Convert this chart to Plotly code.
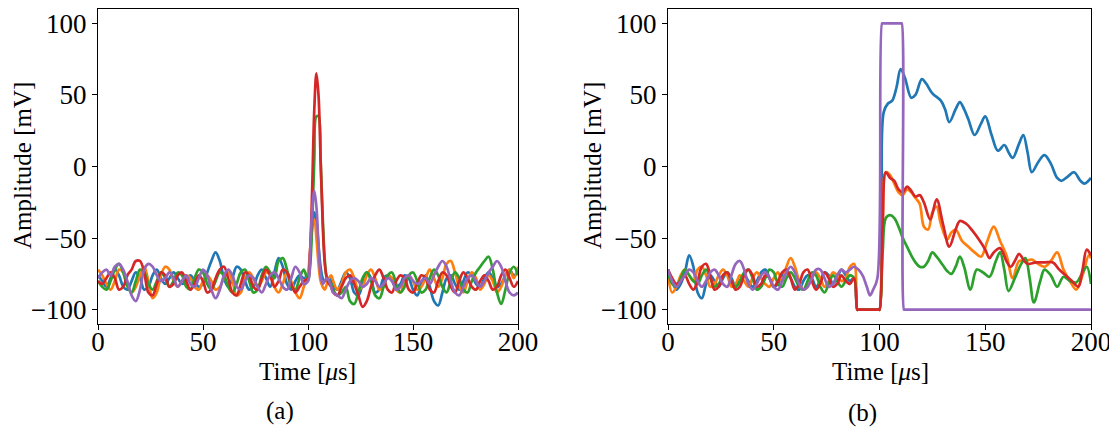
import plotly.graph_objects as go

# page is 1117x433; the page body adds an 8 px offset, so the figure is drawn 8 px in
W, H = 1109, 425
OFF = 8

# ---------------- Panel (a) data ----------------
# time grid (µs): 0..98 step 2, 100..112 step 1, 114..200 step 2
time_a = list(range(0, 100, 2)) + list(range(100, 113)) + list(range(114, 201, 2))

blue_a = [-76, -80, -84, -78, -72, -76, -84, -86, -80, -74,
          -78, -86, -84, -76, -72, -78, -82, -78, -74, -78,
          -82, -80, -76, -80, -84, -82, -74, -66, -60, -66,
          -78, -84, -78, -70, -72, -80, -86, -84, -76, -72,
          -78, -84, -74, -64, -70, -82, -86, -80, -76, -78,
          -76, -62, -42, -32, -38, -55, -70, -78, -80, -79, -78, -80, -84,
          -86, -80, -74, -78, -88, -90, -82, -74, -78, -88,
          -86, -78, -76, -80, -84, -82, -76, -78, -86, -90,
          -82, -76, -84, -94, -97, -88, -78, -76, -82, -86,
          -80, -74, -76, -82, -84, -78, -74, -78, -84, -82,
          -76, -72, -76, -74]

orange_a = [-72, -76, -82, -86, -80, -72, -74, -82, -88, -84,
            -76, -70, -80, -92, -88, -76, -70, -72, -80, -84,
            -80, -76, -78, -84, -86, -80, -76, -80, -86, -84,
            -78, -74, -80, -90, -88, -78, -74, -78, -84, -80,
            -74, -76, -84, -88, -82, -74, -80, -88, -92, -84,
            -74, -58, -40, -37, -50, -68, -80, -84, -86, -82, -78, -76, -80,
            -86, -82, -74, -72, -78, -86, -84, -76, -72, -78,
            -86, -84, -76, -78, -86, -88, -80, -76, -80, -86,
            -84, -78, -72, -78, -84, -78, -68, -66, -74, -84,
            -88, -80, -74, -78, -86, -82, -76, -80, -88, -84,
            -76, -72, -78, -70]

green_a = [-80, -84, -86, -80, -72, -68, -74, -84, -88, -80,
           -72, -74, -82, -86, -80, -74, -78, -84, -80, -74,
           -76, -84, -86, -78, -72, -74, -82, -86, -80, -74,
           -76, -84, -88, -82, -74, -72, -80, -88, -86, -76,
           -70, -74, -78, -66, -64, -72, -84, -86, -78, -72,
           -80, -70, -40, 5, 35, 35, 5, -35, -65, -78, -80, -82, -86,
           -90, -88, -84, -94, -96, -88, -78, -74, -80, -90,
           -92, -84, -76, -74, -82, -88, -84, -76, -74, -80,
           -88, -86, -78, -72, -76, -84, -88, -80, -74, -78,
           -86, -88, -80, -74, -70, -66, -63, -72, -88, -96,
           -86, -74, -70, -76]

red_a = [-80, -82, -78, -74, -78, -86, -84, -76, -72, -66,
         -66, -74, -88, -90, -82, -74, -76, -84, -82, -76,
         -74, -80, -86, -82, -76, -80, -88, -86, -78, -72,
         -70, -78, -88, -90, -82, -74, -76, -84, -86, -78,
         -72, -76, -84, -80, -72, -74, -82, -88, -84, -80,
         -78, -60, -15, 40, 65, 50, 5, -40, -68, -78, -82, -84, -88,
         -90, -84, -78, -76, -82, -90, -98, -94, -84, -76,
         -72, -78, -86, -88, -80, -76, -78, -86, -88, -82,
         -76, -78, -86, -88, -80, -74, -76, -84, -88, -80,
         -74, -78, -84, -86, -80, -76, -80, -86, -84, -76,
         -72, -78, -84, -80]

purple_a = [-78, -74, -72, -76, -70, -68, -72, -80, -90, -94,
            -86, -72, -68, -70, -76, -80, -78, -74, -78, -84,
            -80, -76, -82, -84, -78, -72, -76, -86, -92, -86,
            -76, -72, -76, -84, -86, -80, -76, -78, -84, -88,
            -82, -76, -74, -78, -84, -86, -78, -70, -74, -82,
            -80, -60, -30, -17, -28, -55, -76, -82, -80, -78, -80, -84, -88,
            -90, -92, -86, -80, -78, -80, -84, -82, -78, -80,
            -84, -82, -78, -80, -86, -84, -78, -76, -80, -82,
            -80, -78, -82, -76, -70, -66, -70, -80, -88, -90,
            -84, -78, -76, -80, -84, -80, -74, -70, -66, -70,
            -80, -88, -90, -88]

# ---------------- Panel (b) data ----------------
time_b_pre = list(range(0, 89, 2))  # 0..88 step 2

blue_b_pre = [-72, -80, -86, -82, -74, -62, -70, -88, -92, -82,
              -76, -80, -84, -78, -74, -78, -84, -80, -76, -80,
              -84, -80, -74, -72, -78, -84, -82, -76, -74, -78,
              -84, -86, -80, -76, -78, -84, -80, -74, -76, -82,
              -78, -72, -76, -80, -78]
blue_b_tx = [89.5, 89.9, 99.6, 100, 101, 102, 104, 106, 108, 110, 112,
             115, 117, 120, 122, 125, 129, 131, 133, 136, 138, 140, 142, 145, 148, 150,
             153, 156, 159, 161, 163, 166, 168, 170, 172, 175, 178, 181, 184, 186, 189,
             192, 195, 197, 200]
blue_b_ty = [-100, -100, -100, -100, -20, 38, 44, 46, 55, 68, 62,
             48, 50, 61, 58, 51, 46, 40, 31, 40, 45, 40, 33, 22, 30, 35,
             22, 11, 15, 10, 6, 16, 22, 10, -4, 3, 8, 2, -8, -10, -7,
             -4, -10, -12, -8]

orange_b_pre = [-76, -88, -84, -76, -72, -76, -80, -72, -70, -76,
                -84, -82, -76, -72, -76, -84, -82, -76, -80, -84,
                -78, -74, -78, -82, -84, -78, -74, -80, -70, -64,
                -70, -80, -86, -84, -78, -74, -78, -84, -80, -74,
                -76, -80, -78, -70, -68]
orange_b_tx = [89.5, 89.9, 99.6, 100, 101.5, 103, 105, 107, 109, 111, 113, 115, 117, 119,
               121, 123, 125, 127, 129, 132, 134, 136, 139, 142,
               145, 148, 151, 154, 157, 160, 163, 166, 169, 172,
               175, 178, 181, 184, 187, 190, 193, 196, 199, 200]
orange_b_ty = [-100, -100, -100, -100, -40, -4, -6, -12, -18, -20, -16, -18, -22, -26,
               -42, -44, -32, -28, -40, -51, -46, -44, -52, -56,
               -60, -63, -52, -42, -52, -62, -78, -66, -66, -65,
               -68, -70, -66, -60, -72, -80, -86, -76, -62, -64]

green_b_pre = [-74, -82, -84, -78, -72, -76, -80, -82, -76, -72,
               -78, -84, -82, -76, -74, -80, -84, -80, -74, -72,
               -78, -86, -84, -78, -72, -74, -82, -84, -78, -74,
               -78, -84, -86, -80, -74, -76, -84, -88, -82, -76,
               -80, -84, -80, -76, -78]
green_b_tx = [89.5, 89.9, 99.6, 100, 101.5, 103, 105, 107, 109, 111, 113, 115, 117, 119,
              121, 123, 125, 127, 130, 132, 134, 136, 138, 140,
              143, 146, 149, 152, 155, 157, 159, 161, 164, 167,
              169, 171, 173, 176, 178, 181, 184, 187, 190, 193,
              196, 198, 200]
green_b_ty = [-100, -100, -100, -100, -60, -36, -34, -36, -42, -50, -56, -62, -67, -70,
              -70, -66, -60, -63, -69, -73, -75, -70, -63, -70,
              -86, -72, -74, -77, -66, -60, -72, -87, -78, -68,
              -64, -78, -95, -80, -72, -76, -84, -77, -80, -81,
              -74, -70, -82]

red_b_pre = [-72, -78, -82, -80, -76, -82, -86, -80, -70, -68,
             -76, -86, -84, -76, -74, -80, -86, -84, -76, -72,
             -76, -84, -82, -76, -78, -84, -80, -74, -72, -78,
             -86, -82, -74, -72, -80, -86, -82, -74, -78, -84,
             -82, -76, -80, -82, -78]
red_b_tx = [89.5, 89.9, 99.6, 100, 101.5, 103, 105, 107, 109, 111, 113, 115, 117, 119,
            121, 124, 127, 130, 133, 136, 138, 141, 144, 147, 150,
            152, 154, 157, 160, 162, 164, 166, 168, 170, 174,
            178, 182, 185, 188, 191, 194, 196, 198, 200]
red_b_ty = [-100, -100, -100, -100, -40, -4, -8, -10, -16, -18, -14, -17, -21, -20,
            -25, -37, -23, -40, -56, -44, -38, -40, -45, -51, -58,
            -64, -60, -57, -66, -70, -66, -61, -65, -68, -67,
            -67, -67, -72, -76, -80, -84, -72, -58, -62]

purple_b_pre = [-72, -80, -84, -80, -76, -72, -74, -80, -84, -80,
                -74, -72, -76, -82, -84, -76, -68, -66, -72, -82,
                -86, -82, -76, -74, -78, -84, -86, -80, -74, -70,
                -74, -82, -86, -84, -78, -72, -72, -78, -84, -82,
                -76, -72, -74, -72, -70]
purple_b_tx = [90, 92, 94, 95.5, 97, 99, 101.2, 101.5, 110.2, 110.5, 111.6, 111.9, 200]
purple_b_ty = [-72, -76, -84, -90, -86, -78, 100, 100, 100, 100, -100, -100, -100]

# ---------------- Style ----------------
colors = {"blue": "#1f77b4", "orange": "#ff7f0e", "green": "#2ca02c",
          "red": "#d62728", "purple": "#9467bd"}
LW = 2.7
FONT = "Liberation Serif"

fig = go.Figure()

series_a = [("blue", blue_a), ("orange", orange_a), ("green", green_a),
            ("red", red_a), ("purple", purple_a)]
for name, ys in series_a:
    fig.add_trace(go.Scatter(x=time_a, y=ys, mode="lines",
                             line=dict(color=colors[name], width=LW, shape="spline"),
                             xaxis="x", yaxis="y", showlegend=False))

series_b = [("blue", blue_b_pre, blue_b_tx, blue_b_ty),
            ("orange", orange_b_pre, orange_b_tx, orange_b_ty),
            ("green", green_b_pre, green_b_tx, green_b_ty),
            ("red", red_b_pre, red_b_tx, red_b_ty),
            ("purple", purple_b_pre, purple_b_tx, purple_b_ty)]
for name, pre, tx, ty in series_b:
    fig.add_trace(go.Scatter(x=time_b_pre + tx, y=pre + ty, mode="lines",
                             line=dict(color=colors[name], width=LW, shape="spline"),
                             xaxis="x2", yaxis="y2", showlegend=False))

x_ticks = [0, 50, 100, 150, 200]
y_ticks = [-100, -50, 0, 50, 100]

def px_x(p):  # page pixel -> paper fraction
    return (p - OFF) / W

def px_y(p):
    return 1 - (p - OFF) / H

top, bottom = 9, 324
ydom = [px_y(bottom), px_y(top)]

axis_common = dict(showline=True, linecolor="black", linewidth=1.4, mirror=True,
                   ticks="outside", ticklen=5, tickwidth=1.4, tickcolor="black",
                   showgrid=False, zeroline=False, automargin=False,
                   tickfont=dict(family=FONT, size=27, color="black"))

fig.update_layout(
    width=W, height=H,
    margin=dict(l=0, r=0, t=0, b=0, autoexpand=False),
    paper_bgcolor="white", plot_bgcolor="white",
    xaxis=dict(domain=[px_x(98), px_x(518)], range=[0, 200], tickvals=x_ticks,
               anchor="y", ticklabelstandoff=-12, **axis_common),
    yaxis=dict(domain=ydom, range=[-110, 110], tickvals=y_ticks, anchor="x",
               **axis_common),
    xaxis2=dict(domain=[px_x(668), px_x(1091)], range=[0, 200], tickvals=x_ticks,
                anchor="y2", ticklabelstandoff=-12, **axis_common),
    yaxis2=dict(domain=ydom, range=[-110, 110], tickvals=y_ticks, anchor="x2",
                **axis_common),
)

ann_font = dict(family=FONT, size=25, color="black")
annotations = [
    dict(text="Amplitude [mV]", x=px_x(22), y=px_y(166), textangle=-90),
    dict(text="Amplitude [mV]", x=px_x(592), y=px_y(166), textangle=-90),
    dict(text="Time [<i>μ</i>s]", x=px_x(308), y=px_y(371)),
    dict(text="Time [<i>μ</i>s]", x=px_x(881), y=px_y(371)),
    dict(text="(a)", x=px_x(280), y=px_y(411)),
    dict(text="(b)", x=px_x(862), y=px_y(413)),
]
for a in annotations:
    fig.add_annotation(xref="paper", yref="paper", showarrow=False,
                       xanchor="center", yanchor="middle", font=ann_font, **a)

fig.write_html("out.html")
